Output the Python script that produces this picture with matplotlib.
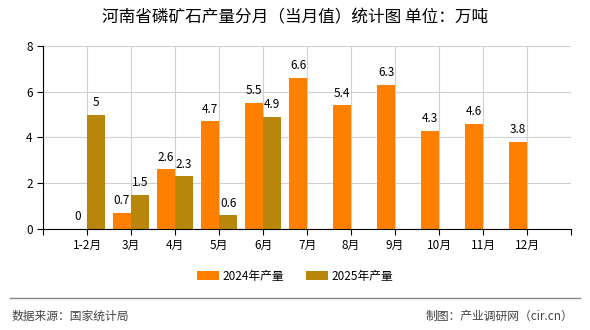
import numpy as np
import matplotlib
matplotlib.use("Agg")
import matplotlib.pyplot as plt

plt.rcParams['font.family'] = ['Noto Sans CJK SC', 'DejaVu Sans']

months = ["1-2月", "3月", "4月", "5月", "6月", "7月", "8月", "9月", "10月", "11月", "12月"]
val_2024 = [0, 0.7, 2.6, 4.7, 5.5, 6.6, 5.4, 6.3, 4.3, 4.6, 3.8]
val_2025 = [5, 1.5, 2.3, 0.6, 4.9]

C24 = "#FF8000"
C25 = "#B8860B"

fig = plt.figure(figsize=(5.9, 3.3), dpi=100)
ax = fig.add_axes([0.073, 0.306, 0.895, 0.555])

w = 0.41
x24 = np.arange(1, len(val_2024) + 1)
x25 = np.arange(1, len(val_2025) + 1)
b1 = ax.bar(x24 - w / 2, val_2024, width=w, color=C24, label="2024年产量", zorder=2)
b2 = ax.bar(x25 + w / 2, val_2025, width=w, color=C25, label="2025年产量", zorder=2)

for xs, vs in ((x24 - w / 2, val_2024), (x25 + w / 2, val_2025)):
    for xi, v in zip(xs, vs):
        ax.text(xi, v + 0.25, f"{v:g}", ha="center", va="bottom", fontsize=8.5, zorder=3)

ax.set_xlim(0, 12)
ax.set_ylim(0, 8)
ax.set_xticks(np.arange(0, 13))
ax.set_xticklabels([""] + months + [""], fontsize=8.5)
ax.set_yticks([0, 2, 4, 6, 8])
ax.tick_params(axis="y", labelsize=8.5, length=4)
ax.tick_params(axis="x", length=4)
ax.grid(True, color="#d0d0d0", linewidth=0.8, zorder=0)
for s in ("top", "right"):
    ax.spines[s].set_visible(False)
ax.spines["left"].set_color("black")
ax.spines["bottom"].set_color("black")

fig.text(0.5, 0.945, "河南省磷矿石产量分月（当月值）统计图 单位：万吨",
         ha="center", va="center", fontsize=12)

fig.legend(handles=[b1, b2], loc="center", bbox_to_anchor=(0.5, 0.163), ncol=2,
           frameon=False, fontsize=8.5, handlelength=1.9, handleheight=0.8,
           columnspacing=1.8, handletextpad=0.3)

fig.add_artist(plt.Line2D([0.017, 0.983], [0.097, 0.097], color="#888888", linewidth=1))
fig.text(0.02, 0.042, "数据来源：国家统计局", ha="left", va="center", fontsize=8.5, color="#444444")
fig.text(0.972, 0.042, "制图：产业调研网（cir.cn）", ha="right", va="center", fontsize=8.5, color="#444444")

fig.savefig("out.png", dpi=100)
